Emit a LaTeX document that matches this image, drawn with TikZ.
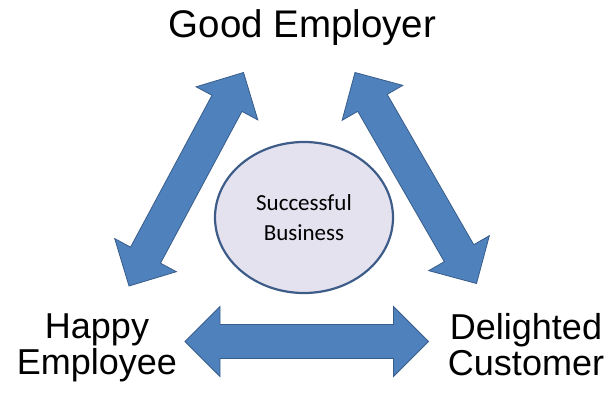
\documentclass[tikz,border=0pt]{standalone}
\usepackage{fontspec}
\setmainfont{Liberation Sans}
\newfontfamily\bodyfont{Carlito}
\usetikzlibrary{calc,shapes.geometric}
\definecolor{arrowblue}{RGB}{79,129,189}
\definecolor{arrowedge}{RGB}{56,93,138}
\definecolor{ellfill}{RGB}{229,226,240}
\definecolor{elledge}{RGB}{62,92,136}
\tikzset{
  blockarrow/.style={fill=arrowblue,draw=arrowedge,line width=0.8pt,line join=miter},
  biglabel/.style={font=\fontsize{36}{36}\selectfont,align=center,inner sep=0pt,anchor=base},
  bizstyle/.style={ellipse,draw=elledge,fill=ellfill,line width=2.2pt,minimum width=178pt,minimum height=151pt,inner sep=0pt,align=center,font=\bodyfont\fontsize{23}{29.5}\selectfont}
}
\newcommand\dblarrow[2]{%
  \draw[blockarrow] (#1)
    -- ($(#1)!35pt!(#2)!35pt!90:(#2)$)
    -- ($(#1)!35pt!(#2)!17pt!90:(#2)$)
    -- ($(#2)!35pt!(#1)!17pt!-90:(#1)$)
    -- ($(#2)!35pt!(#1)!35pt!-90:(#1)$)
    -- (#2)
    -- ($(#2)!35pt!(#1)!35pt!90:(#1)$)
    -- ($(#2)!35pt!(#1)!17pt!90:(#1)$)
    -- ($(#1)!35pt!(#2)!17pt!-90:(#2)$)
    -- ($(#1)!35pt!(#2)!35pt!-90:(#2)$)
    -- cycle;}
\begin{document}
\begin{tikzpicture}[x=1pt,y=-1pt]
\useasboundingbox (0,0) rectangle (615,401);
\fill[white] (0,0) rectangle (615,401);
% tips of the arrows
\coordinate (lt) at (243.5,72.5);
\coordinate (lb) at (129,286);
\coordinate (rt) at (355,72.5);
\coordinate (rb) at (476.5,283.5);
\coordinate (hl) at (185,341.5);
\coordinate (hr) at (428.5,341.5);
\dblarrow{lb}{lt}
\dblarrow{rt}{rb}
\dblarrow{hl}{hr}
\node[bizstyle] (biz) at (304,217.5) {Successful\\Business};
\node[biglabel,font=\fontsize{38.5}{38.5}\selectfont] (good) at (302.5,37.7) {Good Employer};
\node[biglabel] (happy) at (97,374) {Happy\\Employee};
\node[biglabel] (deli) at (526,375) {Delighted\\Customer};
\end{tikzpicture}
\end{document}
